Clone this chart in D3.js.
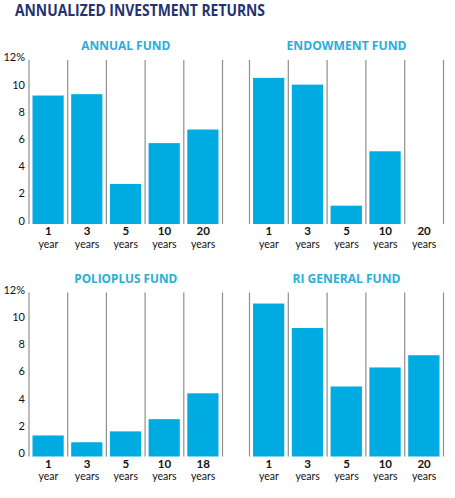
<!DOCTYPE html>
<html><head><meta charset="utf-8">
<script src="https://cdn.jsdelivr.net/npm/d3@7"></script>
<style>body{margin:0;background:#fff}svg{display:block}</style>
</head><body>
<script>
const mainTitle = "ANNUALIZED INVESTMENT RETURNS";
const panelTitles = ["ANNUAL FUND", "ENDOWMENT FUND", "POLIOPLUS FUND", "RI GENERAL FUND"];
const periodsStd = ["1", "3", "5", "10", "20"];
const periodsPolio = ["1", "3", "5", "10", "18"];
const unitLabels = ["year", "years", "years", "years", "years"];
const annualValues = [9.3, 9.4, 2.8, 5.8, 6.8];
const endowmentValues = [10.6, 10.1, 1.2, 5.2, null];
const polioValues = [1.4, 0.9, 1.7, 2.6, 4.5];
const generalValues = [11.1, 9.3, 5.0, 6.4, 7.3];
const yTicks = [0, 2, 4, 6, 8, 10, 12];

const W = 455, H = 498;
const svg = d3.select("body").append("svg").attr("width", W).attr("height", H);

svg.append("text").attr("x", 15).attr("y", 16)
  .attr("font-family", "Open Sans, sans-serif").attr("font-weight", 700)
  .attr("font-size", 16).attr("fill", "#233271")
  .attr("textLength", 250).attr("lengthAdjust", "spacingAndGlyphs")
  .text(mainTitle);

const panels = [
  {title: panelTitles[0], cats: periodsStd, vals: annualValues, x0: 29, x1: 222.5, top: 0, axis: true, tw: 89},
  {title: panelTitles[1], cats: periodsStd, vals: endowmentValues, x0: 249.5, x1: 443.5, top: 0, axis: false, tw: 120},
  {title: panelTitles[2], cats: periodsPolio, vals: polioValues, x0: 29, x1: 222.5, top: 232.5, axis: true, tw: 103},
  {title: panelTitles[3], cats: periodsStd, vals: generalValues, x0: 249.5, x1: 443.5, top: 232.5, axis: false, tw: 108}
];

panels.forEach(p => {
  const g = svg.append("g").attr("transform", `translate(0,${p.top})`);
  const x = d3.scaleBand().domain(p.cats).range([p.x0, p.x1]).padding(0);
  const y = d3.scaleLinear().domain([0, 12]).range([222, 58.8]);
  const bw = x.bandwidth();

  g.append("text").attr("x", (p.x0 + p.x1) / 2).attr("y", 50)
    .attr("text-anchor", "middle")
    .attr("font-family", "Open Sans, sans-serif").attr("font-weight", 700)
    .attr("font-size", 13).attr("fill", "#2aaed8")
    .attr("textLength", p.tw).attr("lengthAdjust", "spacingAndGlyphs")
    .text(p.title);

  // separators
  const bounds = p.cats.map(c => x(c)).concat([p.x1]);
  g.selectAll("line.sep").data(bounds).enter().append("line")
    .attr("x1", d => d).attr("x2", d => d)
    .attr("y1", 60).attr("y2", y(0) + 2)
    .attr("stroke", "#8f8f8f").attr("stroke-width", 1.2);

  // bars
  g.selectAll("rect.bar").data(p.cats.map((c, i) => ({c, v: p.vals[i]})).filter(d => d.v != null))
    .enter().append("rect")
    .attr("x", d => x(d.c) + 3.5).attr("width", bw - 7.5)
    .attr("y", d => y(d.v)).attr("height", d => y(0) + 2 - y(d.v))
    .attr("fill", "#00abe2");

  // x labels
  p.cats.forEach((c, i) => {
    const cx = x(c) + bw / 2;
    g.append("text").attr("x", cx).attr("y", 235).attr("text-anchor", "middle")
      .attr("font-family", "Lato, sans-serif").attr("font-weight", 700)
      .attr("font-size", 11.5).attr("fill", "#111").text(c);
    g.append("text").attr("x", cx).attr("y", 247.5).attr("text-anchor", "middle")
      .attr("font-family", "Lato, sans-serif")
      .attr("font-size", 10.5).attr("fill", "#111").text(unitLabels[i]);
  });

  if (p.axis) {
    g.selectAll("text.tick").data(yTicks).enter().append("text")
      .attr("x", 25).attr("y", d => y(d) + 2.5).attr("text-anchor", "end")
      .attr("font-family", "Lato, sans-serif").attr("font-size", 11)
      .attr("fill", "#111").text(d => d === 12 ? "12%" : d);
  }
});
</script>
</body></html>
